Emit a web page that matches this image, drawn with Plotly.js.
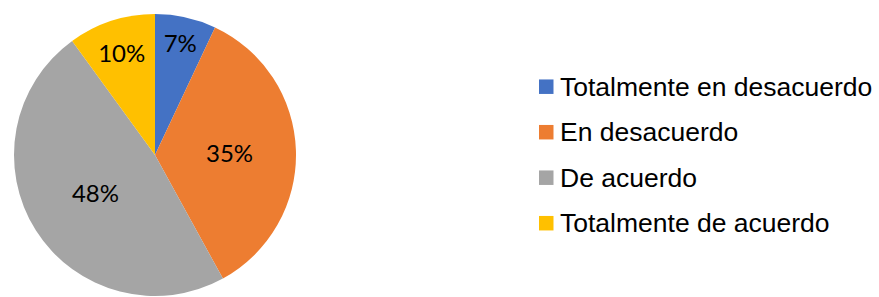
<!DOCTYPE html>
<html>
<head>
<meta charset="utf-8">
<script src="https://cdn.plot.ly/plotly-3.0.1.min.js"></script>
<style>html,body{margin:0;padding:0;background:#fff;}#chart{width:879px;height:297px;}</style>
</head>
<body>
<div id="chart"></div>
<script>
const categories = ["Totalmente en desacuerdo", "En desacuerdo", "De acuerdo", "Totalmente de acuerdo"];
const values = [7, 35, 48, 10];
const colors = ["#4472C4", "#ED7D31", "#A5A5A5", "#FFC000"];

const W = 879, H = 297;
const legendX0 = 539, legendSq = 14.5, legendTextX = 558, legendY0 = 86.7, legendStep = 45.5;

const shapes = [];
const annotations = [];
categories.forEach((c, i) => {
  const cy = legendY0 + i * legendStep;
  shapes.push({
    type: "rect", xref: "paper", yref: "paper",
    x0: legendX0 / W, x1: (legendX0 + legendSq) / W,
    y0: 1 - (cy + legendSq / 2) / H, y1: 1 - (cy - legendSq / 2) / H,
    fillcolor: colors[i], line: {width: 0}
  });
  annotations.push({
    xref: "paper", yref: "paper", x: legendTextX / W, y: 1 - cy / H,
    xanchor: "left", yanchor: "middle", showarrow: false, text: c,
    font: {family: "Liberation Sans, Arial, sans-serif", size: 26.5, color: "#000"}
  });
});

const trace = {
  type: "pie",
  labels: categories,
  values: values,
  sort: false,
  direction: "clockwise",
  rotation: 0,
  marker: {colors: colors, line: {width: 0}},
  texttemplate: "%{percent:.0%}",
  textposition: "inside",
  insidetextorientation: "horizontal",
  textfont: {family: "Lato, Carlito, sans-serif", size: 24, color: "#000"},
  domain: {x: [14 / W, 296 / W], y: [1 / H, 283 / H]},
  showlegend: false,
  hoverinfo: "label+percent"
};

Plotly.newPlot("chart", [trace], {
  width: W, height: H,
  margin: {l: 0, r: 0, t: 0, b: 0},
  paper_bgcolor: "#fff",
  shapes: shapes,
  annotations: annotations
}, {displayModeBar: false, staticPlot: true});
</script>
</body>
</html>
